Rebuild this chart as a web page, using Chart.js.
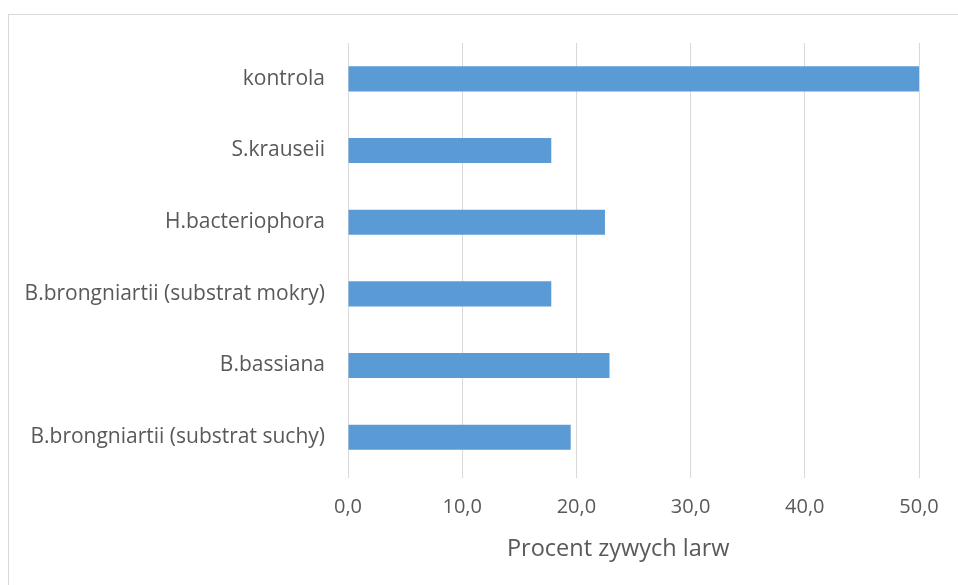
<!DOCTYPE html>
<html>
<head>
<meta charset="utf-8">
<style>
  html, body { margin: 0; padding: 0; background: #ffffff; }
  #wrap { position: relative; width: 958px; height: 585px; }
</style>
<script src="https://cdn.jsdelivr.net/npm/chart.js@4/dist/chart.umd.min.js"></script>
</head>
<body>
<div id="wrap"><canvas id="chart" width="958" height="585"></canvas></div>
<script>
// Treatments, top to bottom
const categories = [
  'kontrola',
  'S.krauseii',
  'H.bacteriophora',
  'B.brongniartii (substrat mokry)',
  'B.bassiana',
  'B.brongniartii (substrat suchy)'
];

// Share of surviving larvae, %
const survivingLarvae = [50.0, 17.8, 22.5, 17.8, 22.9, 19.5];

// Value axis
const xTickValues = [0, 10, 20, 30, 40, 50];
const xTickLabels = ['0,0', '10,0', '20,0', '30,0', '40,0', '50,0'];
const xAxisTitle = 'Procent zywych larw';

const textColor = '#595959';
const gridColor = '#d9d9d9';
const barColor = '#5b9bd5';
const fontFamily = '"Open Sans", "Noto Sans", sans-serif';

// Light frame around the chart area
const framePlugin = {
  id: 'frame',
  beforeDraw(chart) {
    const ctx = chart.ctx;
    ctx.save();
    ctx.fillStyle = '#ffffff';
    ctx.fillRect(0, 0, chart.width, chart.height);
    ctx.strokeStyle = '#d9d9d9';
    ctx.lineWidth = 1;
    ctx.strokeRect(8.5, 14.5, chart.width + 20, chart.height + 20);
    ctx.restore();
  }
};

new Chart(document.getElementById('chart'), {
  type: 'bar',
  data: {
    labels: categories,
    datasets: [{
      data: survivingLarvae,
      backgroundColor: barColor,
      borderWidth: 0,
      categoryPercentage: 1.0,
      barPercentage: 0.35
    }]
  },
  plugins: [framePlugin],
  options: {
    indexAxis: 'y',
    responsive: false,
    animation: false,
    devicePixelRatio: 1,
    layout: { padding: { top: 43, right: 39, left: 0, bottom: 0 } },
    plugins: {
      legend: { display: false },
      tooltip: { enabled: false }
    },
    scales: {
      x: {
        type: 'linear',
        min: 0,
        max: 50,
        afterBuildTicks(scale) {
          scale.ticks = xTickValues.map(v => ({ value: v }));
        },
        afterFit(scale) { scale.height = 112; },
        ticks: {
          color: textColor,
          font: { family: fontFamily, size: 20 },
          padding: 17,
          callback(value) {
            const i = xTickValues.indexOf(value);
            return i >= 0 ? xTickLabels[i] : '';
          }
        },
        grid: {
          color: gridColor,
          lineWidth: 1,
          drawTicks: true,
          tickLength: 5
        },
        border: { display: false },
        title: {
          display: true,
          // trailing spaces nudge the centred title slightly left
          text: xAxisTitle + '     ',
          color: textColor,
          font: { family: fontFamily, size: 23.5 },
          padding: { top: 0, bottom: 22 }
        }
      },
      y: {
        type: 'category',
        afterFit(scale) { scale.width = 348; },
        ticks: {
          color: textColor,
          font: { family: fontFamily, size: 21 },
          padding: 23
        },
        grid: { display: false, drawTicks: false },
        border: { display: false }
      }
    }
  }
});
</script>
</body>
</html>
